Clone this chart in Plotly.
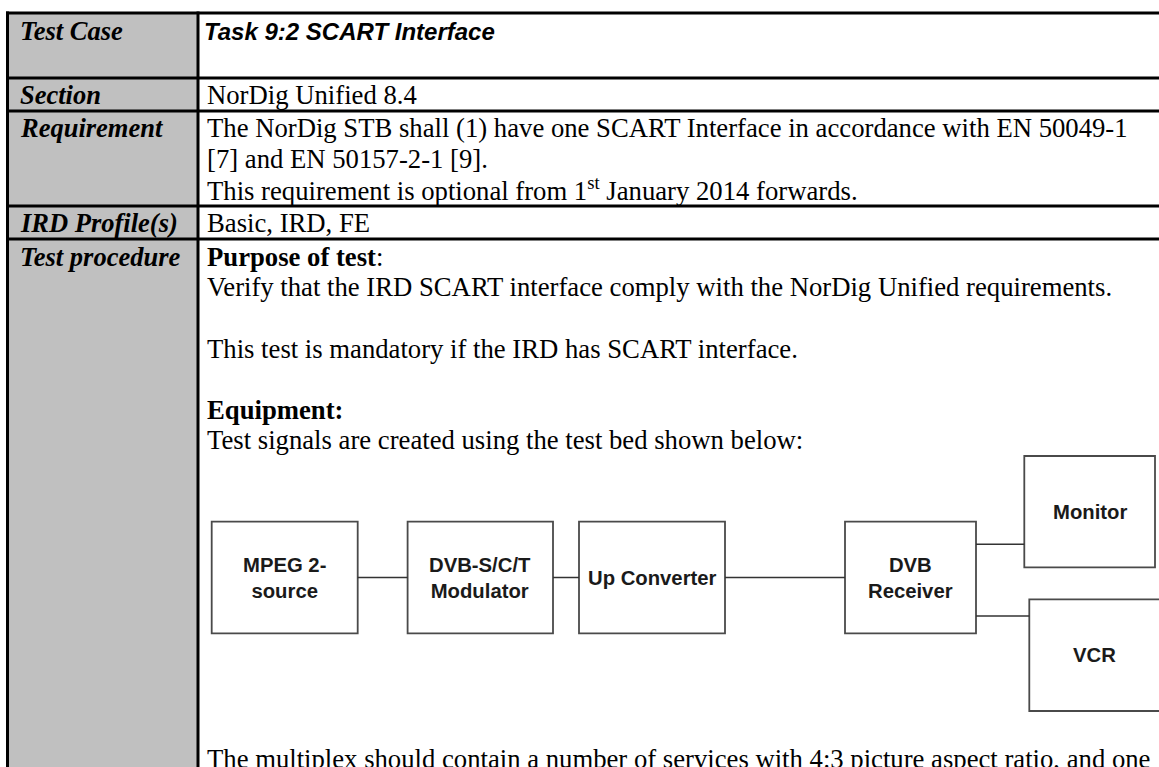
import plotly.graph_objects as go

W, H = 1159, 767

# ---- table content ----
row_labels = ["Test Case", "Section", "Requirement", "IRD Profile(s)", "Test procedure"]
row_label_y = [31, 95, 128, 223, 256.5]
row_lines = [13, 78, 111, 206, 239]

title_text = "Task 9:2 SCART Interface"
body_lines = [
    ("NorDig Unified 8.4", 95),
    ("The NorDig STB shall (1) have one SCART Interface in accordance with EN 50049-1", 128),
    ("[7] and EN 50157-2-1 [9].", 158.5),
    ("This requirement is optional from 1<sup>st</sup> January 2014 forwards.", 189),
    ("Basic, IRD, FE", 223),
    ("<b>Purpose of test</b>:", 256.5),
    ("Verify that the IRD SCART interface comply with the NorDig Unified requirements.", 287),
    ("This test is mandatory if the IRD has SCART interface.", 348.5),
    ("<b>Equipment:</b>", 410),
    ("Test signals are created using the test bed shown below:", 440),
    ("The multiplex should contain a number of services with 4:3 picture aspect ratio, and one", 759),
]

# ---- diagram content ----
box_names = ["MPEG 2-<br>source", "DVB-S/C/T<br>Modulator", "Up Converter",
             "DVB<br>Receiver", "Monitor", "VCR"]
box_x0 = [211.7, 407.6, 579, 845, 1024.3, 1029.3]
box_x1 = [357.7, 553, 725, 976, 1155, 1162]
box_y0 = [521.7, 521.7, 521.7, 521.7, 456, 599.3]
box_y1 = [633.3, 633.3, 633.3, 633.3, 567.3, 711]
links = [(0, 1, 577.5), (1, 2, 577.5), (2, 3, 577.5), (3, 4, 544.3), (3, 5, 616)]

X_LEFT, X_DIV = 7.5, 198
GRAY = "#C0C0C0"
SERIF = "Liberation Serif"
SANS = "Liberation Sans"

fig = go.Figure()
shapes = []
# gray label column
shapes.append(dict(type="rect", xref="x", yref="y", x0=X_LEFT, x1=X_DIV, y0=row_lines[0], y1=H + 5,
                   fillcolor=GRAY, line=dict(width=0), layer="below"))
# horizontal row lines
for y in row_lines:
    shapes.append(dict(type="line", xref="x", yref="y", x0=X_LEFT - 1.5, x1=W + 5, y0=y, y1=y,
                       line=dict(color="black", width=3)))
# vertical lines
for x in (X_LEFT, X_DIV):
    shapes.append(dict(type="line", xref="x", yref="y", x0=x, x1=x, y0=row_lines[0] - 1.5, y1=H + 5,
                       line=dict(color="black", width=3)))

# diagram boxes
for i in range(len(box_names)):
    shapes.append(dict(type="rect", xref="x", yref="y", x0=box_x0[i], x1=box_x1[i],
                       y0=box_y0[i], y1=box_y1[i], fillcolor="white",
                       line=dict(color="#4a4a4a", width=1.8)))
for a, b, y in links:
    shapes.append(dict(type="line", xref="x", yref="y", x0=box_x1[a], x1=box_x0[b], y0=y, y1=y,
                       line=dict(color="#333333", width=1.5)))

annotations = []
for lab, y in zip(row_labels, row_label_y):
    annotations.append(dict(x=18, y=y, xref="x", yref="y", text=f"<b><i>{lab}</i></b>",
                            showarrow=False, xanchor="left", yanchor="middle",
                            font=dict(family=SERIF, size=26.5, color="black")))
annotations.append(dict(x=202, y=31, xref="x", yref="y", text=f"<b><i>{title_text}</i></b>",
                        showarrow=False, xanchor="left", yanchor="middle",
                        font=dict(family=SANS, size=24, color="black")))
for txt, y in body_lines:
    annotations.append(dict(x=205, y=y, xref="x", yref="y", text=txt,
                            showarrow=False, xanchor="left", yanchor="middle",
                            font=dict(family=SERIF, size=26.7, color="black")))
for i, name in enumerate(box_names):
    cx = (box_x0[i] + min(box_x1[i], 1159)) / 2
    annotations.append(dict(x=cx, y=(box_y0[i] + box_y1[i]) / 2, xref="x", yref="y",
                            text=f"<b>{name}</b>", showarrow=False, xanchor="center", yanchor="middle",
                            font=dict(family=SANS, size=20.3, color="#1a1a1a")))

fig.update_layout(
    width=W, height=H, margin=dict(l=0, r=0, t=0, b=0),
    paper_bgcolor="white", plot_bgcolor="white",
    xaxis=dict(range=[0, W], visible=False, fixedrange=True),
    yaxis=dict(range=[H, 0], visible=False, fixedrange=True),
    shapes=shapes, annotations=annotations, showlegend=False,
)
fig.write_html("out.html", config={"displayModeBar": False},
               post_script="document.body.style.margin='0px';document.body.style.overflow='hidden';")
